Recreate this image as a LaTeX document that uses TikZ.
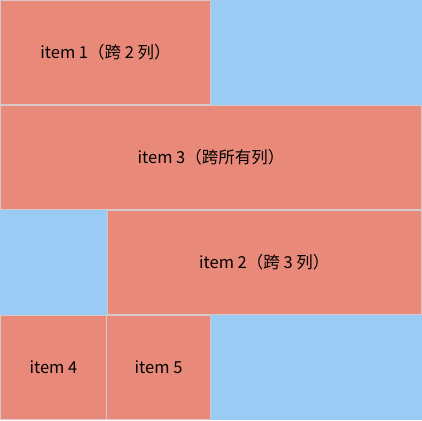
\documentclass[tikz,border=0pt]{standalone}
\usepackage{fontspec}
\setmainfont{Noto Sans CJK SC}
\usetikzlibrary{positioning}
\definecolor{salmon}{RGB}{232,137,122}
\definecolor{skyblue}{RGB}{154,203,244}
\definecolor{cellline}{RGB}{214,200,200}

\begin{document}
\begin{tikzpicture}[x=1pt, y=-1pt,
  cell/.style={draw=cellline, fill=salmon, line width=1.2pt, anchor=north west, outer sep=0pt, inner sep=0pt,
    minimum height=103.8pt, font=\fontsize{16.5}{19}\selectfont}
]
\fill[skyblue] (0,0) rectangle (422,420);
\useasboundingbox (0,0) rectangle (422,420);

\node[cell, minimum width=209.8pt] at (0.6,0.6) (item1) {item 1（跨 2 列）};
\node[cell, minimum width=420.8pt] at (0.6,105.6) (item3) {item 3（跨所有列）};
\node[cell, minimum width=314.3pt] at (107.1,210.6) (item2) {item 2（跨 3 列）};
\node[cell, minimum width=105.6pt] at (0.6,315.6) (item4) {item 4};
\node[cell, minimum width=103.6pt] at (106.8,315.6) (item5) {item 5};
\end{tikzpicture}
\end{document}
